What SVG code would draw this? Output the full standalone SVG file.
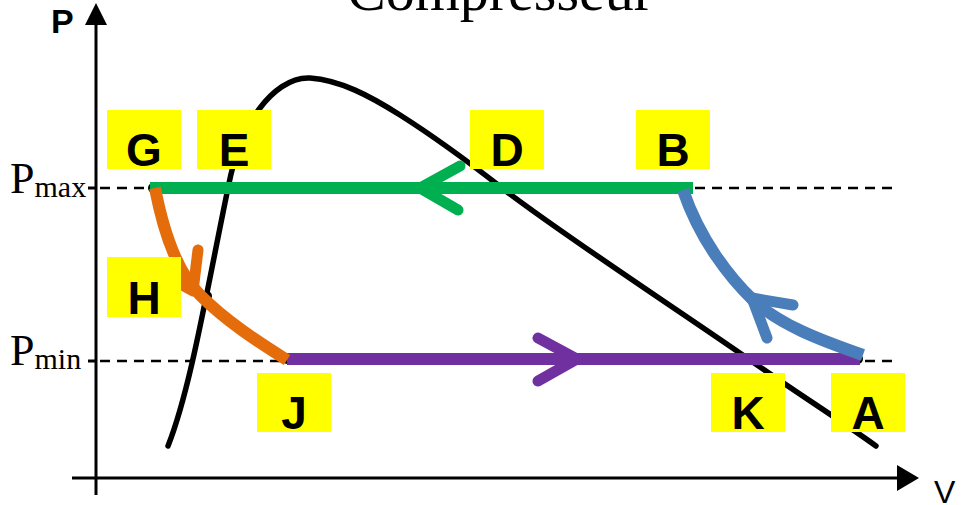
<svg xmlns="http://www.w3.org/2000/svg" width="961" height="505" viewBox="0 0 961 505">
<style>
.ax{stroke:#000;stroke-width:3;fill:none}
.dash{stroke:#000;stroke-width:2.5;stroke-dasharray:10 7;fill:none}
.dome{stroke:#000;stroke-width:5.5;fill:none;stroke-linecap:round}
.pt{fill:#000}
.lab rect{fill:#FFFF00}
.lab text{font-family:"Liberation Sans",Arial,sans-serif;font-weight:bold;font-size:46px;text-anchor:middle;fill:#000}
.ser{font-family:"Liberation Serif","Times New Roman",serif;fill:#000}
.proc{fill:none;stroke-width:12}
.chev{fill:none;stroke-width:11;stroke-linecap:round;stroke-linejoin:round}
</style>
<rect width="961" height="505" fill="#fff"/>
<text class="ser" x="500" y="10" font-size="58" text-anchor="middle">Compresseur</text>
<g id="axes">
<line class="ax" x1="96" y1="20" x2="96" y2="495"/>
<polygon points="96,3 85,25 107,25" fill="#000"/>
<line class="ax" x1="72" y1="478" x2="900" y2="478"/>
<polygon points="919,478 897,465 897,491" fill="#000"/>
<line class="ax" x1="88" y1="188" x2="96" y2="188"/>
<line class="ax" x1="88" y1="361" x2="96" y2="361"/>
<text x="51" y="33" font-family="Liberation Sans,Arial,sans-serif" font-weight="bold" font-size="34">P</text>
<text x="934" y="503" font-family="Liberation Sans,Arial,sans-serif" font-size="32">V</text>
<text class="ser" x="10" y="193"><tspan font-size="44">P</tspan><tspan font-size="30" dy="4">max</tspan></text>
<text class="ser" x="10" y="365"><tspan font-size="44">P</tspan><tspan font-size="30" dy="4">min</tspan></text>
</g>
<g id="levels">
<line class="dash" x1="100" y1="188" x2="895" y2="188"/>
<line class="dash" x1="100" y1="361" x2="895" y2="361"/>
</g>
<path id="dome" class="dome" d="M168,446 C190,390 205,300 228,188 C236,148 245,128 260,108 C272,92 290,77 310,78 C340,80 370,96 400,115 C430,134 470,163 502,188 C560,233 690,318 747,358 C800,395 840,420 876,446"/>
<g id="points">
<circle class="pt" cx="153" cy="188" r="5"/>
<circle class="pt" cx="228" cy="188" r="5"/>
<circle class="pt" cx="502" cy="188" r="5"/>
<circle class="pt" cx="680" cy="188" r="5"/>
<circle class="pt" cx="207" cy="296" r="5"/>
<circle class="pt" cx="287" cy="359" r="5"/>
<circle class="pt" cx="747" cy="359" r="5"/>
<circle class="pt" cx="858" cy="359" r="5"/>
</g>
<g id="connectors">
<g id="purple" stroke="#7030A0">
<line class="proc" x1="287" y1="359" x2="860" y2="359"/>
<path class="chev" d="M538,338 L577,359 L538,381"/>
</g>
<g id="green" stroke="#00B050">
<line class="proc" x1="150" y1="188" x2="693" y2="188"/>
<path class="chev" d="M460,166 L420,188 L458,210"/>
</g>
<g id="orange" stroke="#E46C0A">
<path class="proc" d="M155,188 C165,240 180,275 200,295 C225,320 255,340 287,360"/>
<path class="chev" d="M198,250 L193,291 L160,273"/>
</g>
<g id="blue" stroke="#4A7EBB">
<path class="proc" d="M863,355 C820,340 780,325 753,300 C730,278 700,240 683,190"/>
<path class="chev" d="M793,305 L752,298 L767,338"/>
</g>
</g>
<g id="node-G" class="lab"><rect x="107" y="110" width="74" height="59"/><text x="144" y="166">G</text></g>
<g id="node-E" class="lab"><rect x="197" y="110" width="74" height="59"/><text x="234" y="166">E</text></g>
<g id="node-D" class="lab"><rect x="470" y="110" width="74" height="59"/><text x="507" y="166">D</text></g>
<g id="node-B" class="lab"><rect x="636" y="110" width="74" height="59"/><text x="673" y="166">B</text></g>
<g id="node-H" class="lab"><rect x="107" y="257" width="74" height="60"/><text x="144" y="314">H</text></g>
<g id="node-J" class="lab"><rect x="257" y="373" width="74" height="59"/><text x="294" y="429">J</text></g>
<g id="node-K" class="lab"><rect x="711" y="373" width="74" height="59"/><text x="748" y="429">K</text></g>
<g id="node-A" class="lab"><rect x="831" y="373" width="74" height="59"/><text x="868" y="429">A</text></g>
</svg>
